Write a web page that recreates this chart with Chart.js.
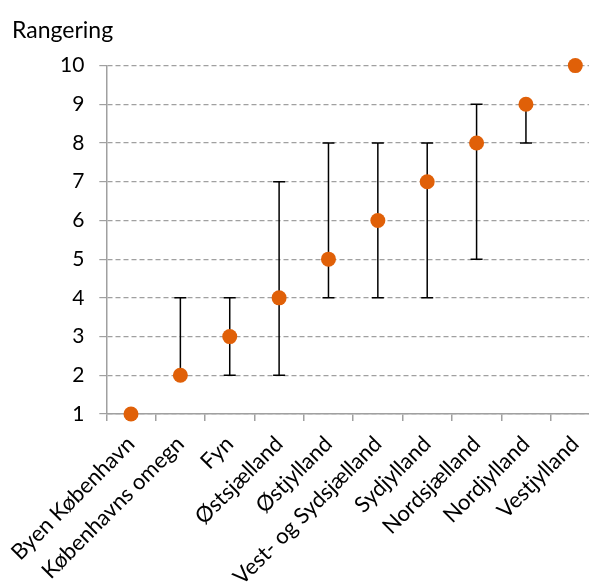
<!DOCTYPE html>
<html>
<head>
<meta charset="utf-8">
<script src="https://cdn.jsdelivr.net/npm/chart.js@4"></script>
<style>
  html, body { margin: 0; padding: 0; background: #fff; overflow: hidden; }
  #wrap { width: 589px; height: 583px; overflow: hidden; }
</style>
</head>
<body>
<div id="wrap"><canvas id="chart" width="612" height="583"></canvas></div>
<script>
const regions = ['Byen København', 'Københavns omegn', 'Fyn', 'Østsjælland', 'Østjylland',
    'Vest- og Sydsjælland', 'Sydjylland', 'Nordsjælland', 'Nordjylland', 'Vestjylland'];
const rank = [1, 2, 3, 4, 5, 6, 7, 8, 9, 10];
const rankLow = [1, 2, 2, 2, 4, 4, 4, 5, 8, 10];
const rankHigh = [1, 4, 4, 7, 8, 8, 8, 9, 9, 10];
const yTicks = [1, 2, 3, 4, 5, 6, 7, 8, 9, 10];

const FONT = 'Lato, "Open Sans", sans-serif';

// draws the min-max bars behind the points
const errorBars = {
    id: 'errorBars',
    beforeDatasetsDraw(chart) {
        const ctx = chart.ctx;
        const x = chart.scales.x;
        const y = chart.scales.y;
        ctx.save();
        ctx.strokeStyle = '#000';
        ctx.lineWidth = 1.5;
        regions.forEach((r, i) => {
            if (rankLow[i] === rankHigh[i]) return;
            const px = x.getPixelForValue(i);
            const lo = y.getPixelForValue(rankLow[i]);
            const hi = y.getPixelForValue(rankHigh[i]);
            ctx.beginPath();
            ctx.moveTo(px, lo);
            ctx.lineTo(px, hi);
            ctx.moveTo(px - 6, lo);
            ctx.lineTo(px + 6, lo);
            ctx.moveTo(px - 6, hi);
            ctx.lineTo(px + 6, hi);
            ctx.stroke();
        });
        ctx.restore();
    }
};

new Chart(document.getElementById('chart'), {
    type: 'line',
    data: {
        labels: regions,
        datasets: [{
            data: rank,
            showLine: false,
            clip: false,
            pointRadius: 7.5,
            pointHoverRadius: 7.5,
            pointBackgroundColor: '#E06008',
            pointBorderColor: '#E06008',
            pointBorderWidth: 0
        }]
    },
    options: {
        responsive: false,
        animation: false,
        events: [],
        layout: { padding: { left: 12, right: 12, top: 0, bottom: 0 } },
        plugins: {
            legend: { display: false },
            tooltip: { enabled: false },
            title: {
                display: true,
                text: 'Rangering',
                align: 'start',
                color: '#000',
                font: { family: FONT, size: 23, weight: 'normal' },
                padding: { top: 17, bottom: 21 }
            }
        },
        scales: {
            x: {
                type: 'category',
                offset: true,
                grid: {
                    offset: true,
                    drawOnChartArea: false,
                    drawTicks: true,
                    tickLength: 7,
                    color: '#a0a0a0',
                    lineWidth: 1.5
                },
                border: { color: '#a0a0a0', width: 1.5 },
                ticks: {
                    color: '#000',
                    font: { family: FONT, size: 22 },
                    maxRotation: 45,
                    minRotation: 45,
                    autoSkip: false,
                    padding: 10
                },
                afterFit(scale) { scale.height = 169; }
            },
            y: {
                min: 1,
                max: 10,
                afterBuildTicks(scale) { scale.ticks = yTicks.map(v => ({ value: v })); },
                grid: {
                    color: '#a0a0a0',
                    lineWidth: 1.2,
                    tickLength: 7,
                    tickBorderDash: [],
                    tickColor: '#a0a0a0'
                },
                border: { color: '#a0a0a0', width: 1.5, dash: [5, 3] },
                ticks: {
                    color: '#000',
                    font: { family: FONT, size: 21 },
                    padding: 15
                },
                afterFit(scale) { scale.width = 92; }
            }
        }
    },
    plugins: [errorBars]
});
</script>
</body>
</html>
